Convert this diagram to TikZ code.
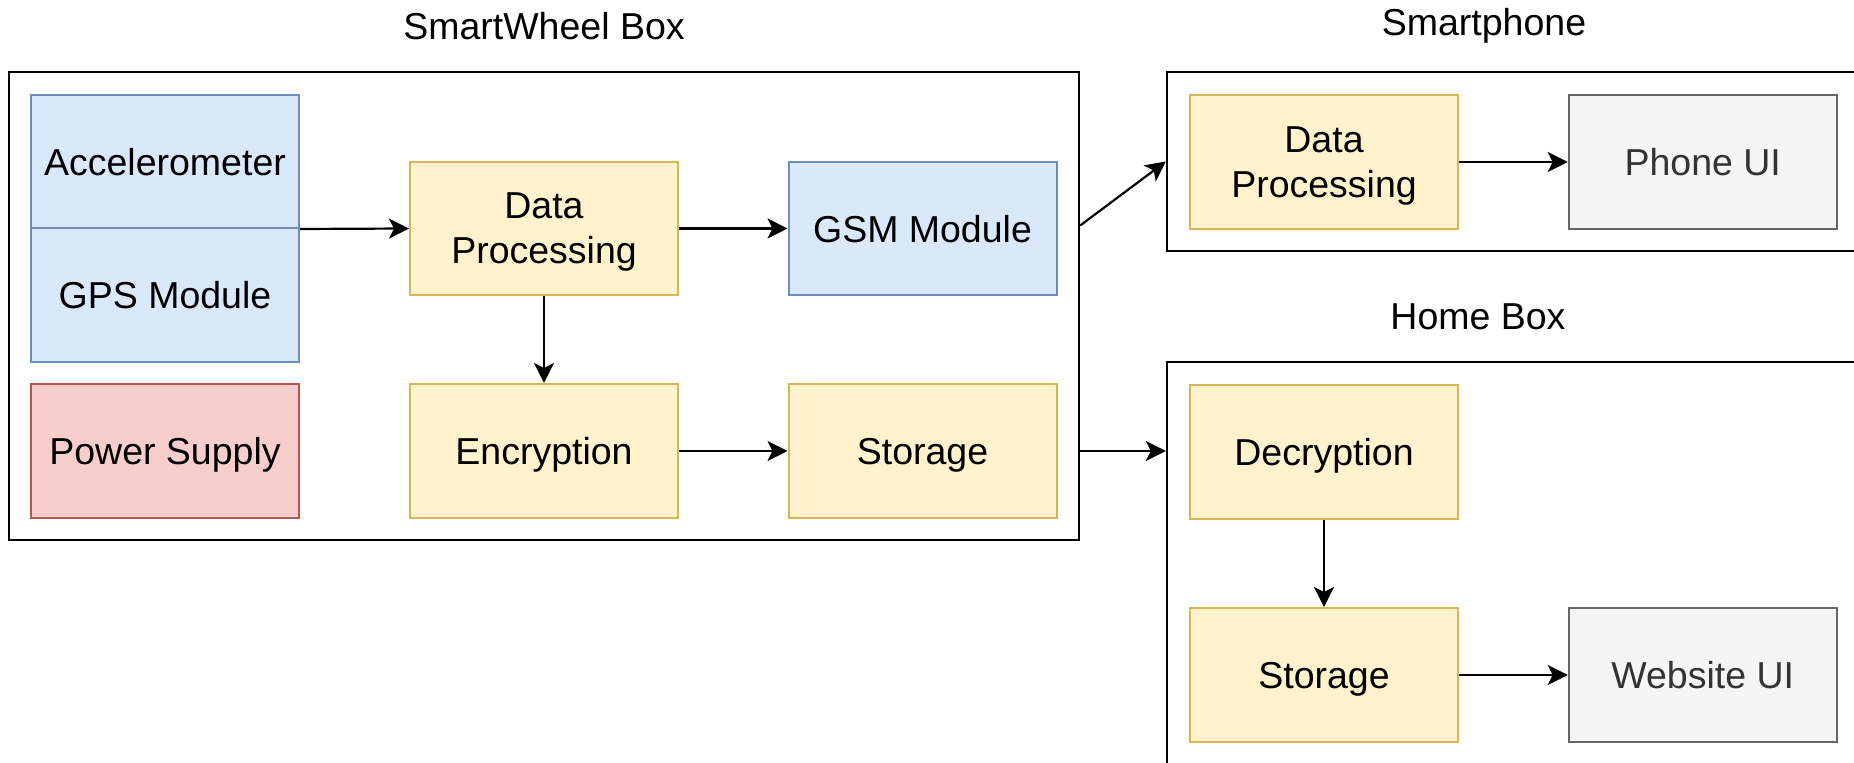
\documentclass[tikz,border=0pt]{standalone}
\usepackage{fontspec}
\setmainfont{Liberation Sans}
\usetikzlibrary{arrows.meta,calc}

\definecolor{bluefill}{HTML}{DAE8FC}
\definecolor{blueline}{HTML}{6C8EBF}
\definecolor{yelfill}{HTML}{FFF2CC}
\definecolor{yelline}{HTML}{D6B656}
\definecolor{redfill}{HTML}{F8CECC}
\definecolor{redline}{HTML}{B85450}
\definecolor{greyfill}{HTML}{F5F5F5}
\definecolor{greyline}{HTML}{666666}
\definecolor{greytext}{HTML}{333333}

\newcommand{\labelfont}{\fontsize{18.75}{22.5}\selectfont}

\tikzset{
  blk/.style={draw, line width=1pt, minimum width=134pt, minimum height=67pt,
              inner sep=0pt, align=center, text depth=0pt, font=\labelfont},
  bluebox/.style={blk, fill=bluefill, draw=blueline},
  yelbox/.style={blk, fill=yelfill, draw=yelline},
  redbox/.style={blk, fill=redfill, draw=redline},
  greybox/.style={blk, fill=greyfill, draw=greyline, text=greytext},
  frame/.style={draw=black, line width=1.2pt, fill=white, inner sep=0pt},
  title/.style={font=\labelfont, inner sep=0pt},
  conn/.style={-{Stealth[length=10pt,width=10pt,inset=2.5pt]}, line width=1.1pt}
}

\begin{document}
\begin{tikzpicture}[x=0.5pt, y=-0.5pt]
\useasboundingbox (0,0) rectangle (1854,763);
\clip (0,0) rectangle (1854,763);

% group frames
\node[frame, minimum width=535pt, minimum height=234pt] (sw) at (544,306) {};
\node[frame, minimum width=356.5pt, minimum height=89.5pt] (phone) at (1523.5,161.5) {};
\node[frame, minimum width=356.5pt, minimum height=206.5pt] (home) at (1523.5,568.5) {};

% group titles
\node[title] (swt) at (544,26) {SmartWheel Box};
\node[title] (phonet) at (1484,26) {Smartphone};
\node[title] (homet) at (1478,317) {Home Box};

% SmartWheel box contents
\node[bluebox, minimum height=66.5pt] (acc) at (165,161.5) {Accelerometer};
\node[bluebox] (gps) at (165,295) {GPS Module};
\node[redbox] (pwr) at (165,451) {Power Supply};
\node[yelbox, minimum height=66.5pt] (dp) at (544,228.5) {Data\\Processing};
\node[yelbox] (enc) at (544,451) {Encryption};
\node[bluebox, minimum height=66.5pt] (gsm) at (922.5,228.5) {GSM Module};
\node[yelbox] (sto) at (922.5,451) {Storage};

% Smartphone contents
\node[yelbox] (pdp) at (1324,162) {Data\\Processing};
\node[greybox] (pui) at (1702.75,162) {Phone UI};

% Home box contents
\node[yelbox] (dec) at (1324,452) {Decryption};
\node[yelbox] (hsto) at (1324,675) {Storage};
\node[greybox] (web) at (1702.75,675) {Website UI};

% connectors
\draw[conn] (acc.south east) -- (dp.west);
\draw[conn] (dp.east) -- (gsm.west);
\draw[conn] (dp.south) -- (enc.north);
\draw[conn] (enc.east) -- (sto.west);
\draw[conn] ($(gsm.east -| sw.east)+(0,-3)$) -- (phone.west);
\draw[conn] (sto.east -| sw.east) -- (sto.east -| home.west);
\draw[conn] (pdp.east) -- (pui.west);
\draw[conn] (dec.south) -- (hsto.north);
\draw[conn] (hsto.east) -- (web.west);
\end{tikzpicture}
\end{document}
